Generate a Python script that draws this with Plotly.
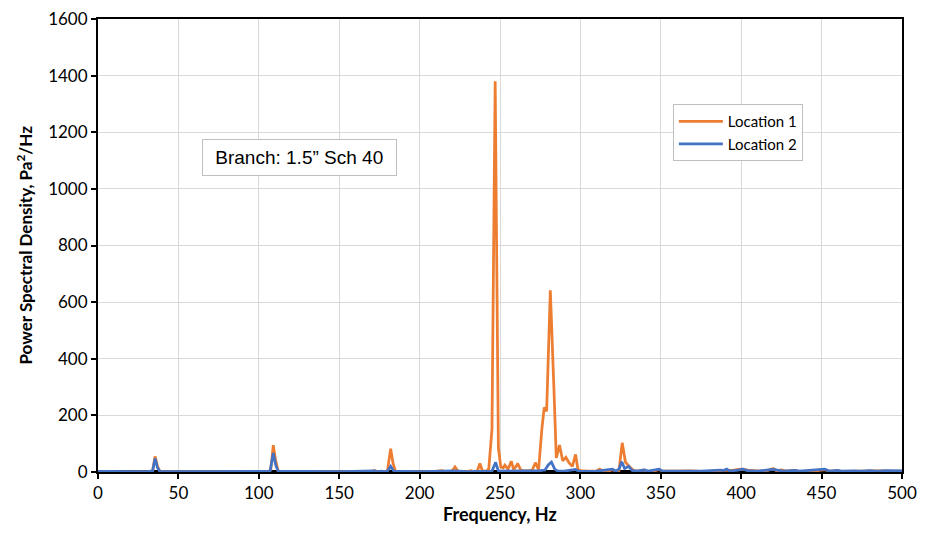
import plotly.graph_objects as go

# Location 1 (orange) spectrum: frequency (Hz) and PSD (Pa^2/Hz)
loc1_freq = [0, 5, 10, 20, 30, 33, 34, 35.5, 37, 38.5, 45, 60, 80, 100, 106, 107.5, 109, 110.5, 112, 114,
             130, 150, 170, 172, 174, 178, 180, 182, 183.5, 185, 187, 200, 210, 214, 216, 220, 222, 224,
             230, 232, 234, 236, 237.5, 239, 241, 243, 245, 247, 249, 250.5, 252, 253, 255, 257, 258.5,
             260, 261, 263, 265, 268, 270, 272, 274, 276, 277.5, 279, 281.3, 283.5, 285, 287, 289, 291,
             293, 295, 297, 298.5, 300, 305, 310, 312, 314, 318, 320, 322, 324, 326, 328, 330, 331.5, 333,
             336, 339, 341, 345, 349, 351, 360, 368, 375, 385, 388, 391, 395, 398, 401, 404, 407, 410, 415,
             420, 422, 425, 428, 433, 436, 445, 450, 452, 455, 460, 462, 470, 478, 482, 488, 492, 496, 500]
loc1_psd = [1, 2, 0, 1, 1, 1, 5, 55, 20, 2, 1, 2, 1, 1, 1, 10, 95, 40, 5, 1,
            2, 1, 1, 5, 1, 1, 5, 82, 30, 3, 1, 1, 2, 5, 1, 2, 18, 2,
            2, 5, 1, 5, 30, 5, 2, 10, 150, 1380, 85, 18, 15, 24, 10, 38, 8,
            20, 30, 6, 4, 4, 6, 33, 8, 150, 228, 215, 642, 300, 50, 95, 40, 52,
            32, 20, 62, 8, 5, 3, 4, 10, 3, 4, 8, 3, 5, 103, 35, 22, 15, 5,
            3, 7, 3, 2, 9, 3, 3, 4, 2, 3, 6, 5, 6, 9, 10, 7, 5, 4, 3,
            12, 4, 7, 3, 6, 3, 2, 7, 8, 3, 5, 2, 3, 4, 3, 4, 3, 4, 3]

# Location 2 (blue) spectrum
loc2_freq = [0, 5, 10, 20, 30, 34, 35.5, 37, 38.5, 50, 70, 100, 107, 109, 110.5, 112, 130, 150, 172, 174,
             176, 178, 180, 182, 184, 200, 222, 230, 245, 247.3, 249, 252, 255, 260, 270, 275, 278, 280,
             282, 284, 286, 290, 297, 299, 310, 320, 322, 324, 325.7, 327.5, 330, 332, 335, 340, 342, 349,
             351, 368, 375, 387, 389, 391, 393, 398, 401, 404, 410, 420, 423, 426, 433.5, 436, 452, 455,
             460, 462, 470, 475, 480, 485, 490, 495, 500]
loc2_psd = [2, 1, 2, 1, 1, 4, 48, 15, 2, 1, 2, 1, 2, 67, 25, 3, 2, 1, 4, 1,
            3, 1, 3, 20, 3, 1, 4, 1, 3, 34, 3, 3, 4, 3, 3, 5, 7, 25,
            35, 10, 3, 3, 9, 2, 3, 10, 3, 10, 36, 12, 20, 6, 3, 7, 3, 10,
            3, 4, 3, 7, 5, 10, 3, 7, 10, 5, 3, 9, 5, 3, 6, 3, 10, 3,
            6, 3, 4, 3, 5, 3, 5, 4, 4]

# Third (black) series lying along zero, visible only beneath the peaks
ref_freq = [0, 500]
ref_psd = [0, 0]

x_ticks = [0, 50, 100, 150, 200, 250, 300, 350, 400, 450, 500]
y_ticks = [0, 200, 400, 600, 800, 1000, 1200, 1400, 1600]

x_title = "<b>Frequency, Hz</b>"
y_title = "<b>Power Spectral Density, Pa<sup>2</sup>/Hz</b>"
note_text = "\u00a0Branch: 1.5\u201d Sch 40\u00a0"

fig = go.Figure()
fig.add_trace(go.Scatter(x=ref_freq, y=ref_psd, mode="lines", name="Reference",
                         showlegend=False, line=dict(color="#000000", width=4)))
fig.add_trace(go.Scatter(x=loc1_freq, y=loc1_psd, mode="lines", name="Location 1",
                         line=dict(color="#ED7D31", width=2.75)))
fig.add_trace(go.Scatter(x=loc2_freq, y=loc2_psd, mode="lines", name="Location 2",
                         line=dict(color="#4472C4", width=2.75)))

base_font = dict(family="Lato, Open Sans, sans-serif", size=17, color="#000000")
fig.update_layout(
    width=921, height=518,
    margin=dict(l=90, r=27, t=11, b=54),
    paper_bgcolor="white", plot_bgcolor="white",
    font=base_font,
    xaxis=dict(range=[0, 500], tickvals=x_ticks, showgrid=True, gridcolor="#d9d9d9", gridwidth=1,
               showline=True, linecolor="black", linewidth=2, mirror=True, automargin=False,
               ticks="outside", ticklen=5, tickwidth=2, tickcolor="black", zeroline=False,
               ticklabeloverflow="allow", tickfont=dict(size=17)),
    yaxis=dict(range=[0, 1600], tickvals=y_ticks, showgrid=True, gridcolor="#d9d9d9", gridwidth=1,
               showline=True, linecolor="black", linewidth=2, mirror=True, automargin=False,
               ticks="outside", ticklen=5, tickwidth=2, tickcolor="black", zeroline=False,
               ticklabeloverflow="allow", tickfont=dict(size=17)),
    legend=dict(x=0.715, y=0.812, xanchor="left", yanchor="top", bgcolor="white",
                bordercolor="#bfbfbf", borderwidth=1, font=dict(size=15),
                itemwidth=44),
    annotations=[
        dict(x=0.251, y=0.695, xref="paper", yref="paper", showarrow=False,
             xanchor="center", yanchor="middle", text=note_text,
             font=dict(family="Liberation Sans, Arial, sans-serif", size=19, color="black"),
             bordercolor="#bfbfbf", borderwidth=1, borderpad=7, bgcolor="white"),
        dict(x=0.5, y=-0.093, xref="paper", yref="paper", showarrow=False,
             xanchor="center", yanchor="middle", text=x_title, font=dict(size=18)),
        dict(x=-0.092, y=0.5, xref="paper", yref="paper", showarrow=False,
             xanchor="center", yanchor="middle", textangle=-90, text=y_title, font=dict(size=17)),
    ],
)

fig.write_html("out.html")
